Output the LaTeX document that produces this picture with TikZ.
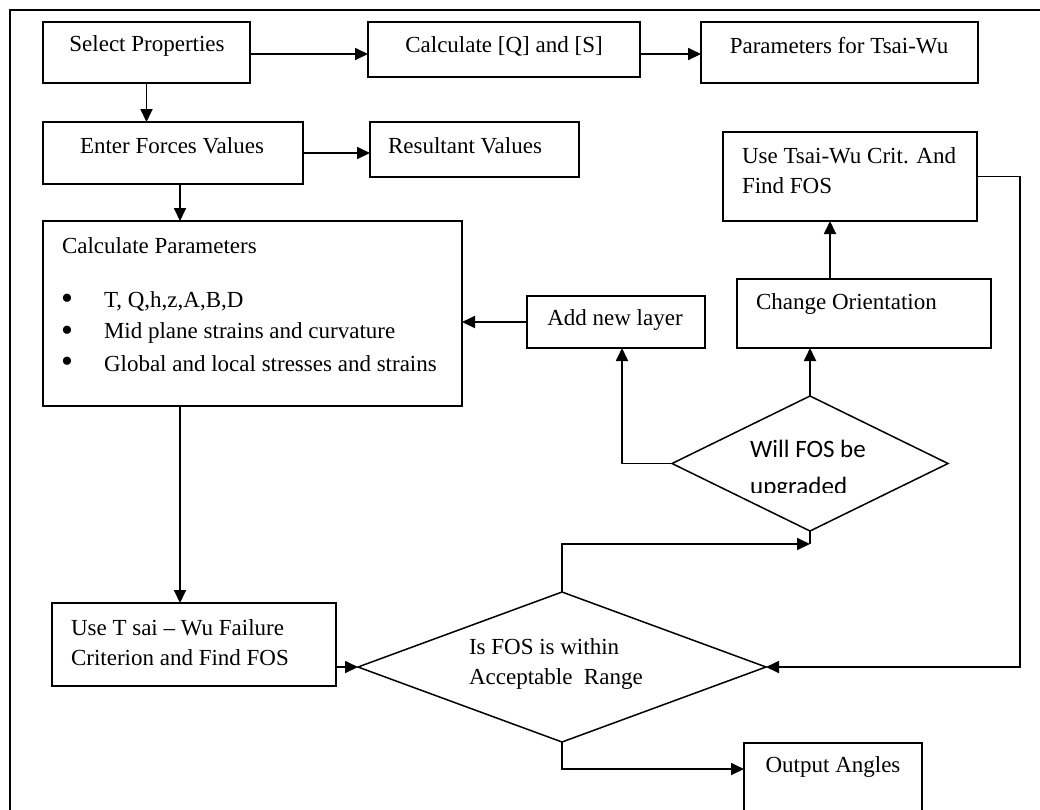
\documentclass[tikz,border=0pt]{standalone}
\usepackage{fontspec}
\setmainfont{Liberation Serif}
\newfontfamily\calib{Carlito}
\usetikzlibrary{shapes.geometric,arrows.meta}
\begin{document}
\begin{tikzpicture}[x=1pt,y=-1pt,
  box/.style={draw,line width=1.6pt,rectangle,inner sep=0pt,outer sep=0pt},
  dia/.style={draw,line width=1.5pt,diamond,inner sep=0pt,outer sep=0pt},
  txt/.style={inner sep=0pt,outer sep=0pt,font=\fontsize{23}{30}\selectfont,align=left},
  bul/.style={inner sep=0pt,outer sep=0pt,font=\fontsize{34}{34}\selectfont},
  arr/.style={line width=1.8pt,-{Triangle[length=13pt,width=12pt]}},
  ln/.style={line width=1.8pt}]
\clip (0,0) rectangle (1040,809);
% frame
\draw[ln] (10,815) -- (10,10) -- (1045,10);
% boxes
\node[box,minimum width=207pt,minimum height=61pt] (sel) at (146.5,52.5) {};
\node[box,minimum width=272pt,minimum height=55pt] (calq) at (504,49.5) {};
\node[box,minimum width=277pt,minimum height=61pt] (par) at (839.5,52.5) {};
\node[box,minimum width=260pt,minimum height=62pt] (ent) at (173,153) {};
\node[box,minimum width=209pt,minimum height=55pt] (res) at (474.5,149.5) {};
\node[box,minimum width=419pt,minimum height=185pt] (cp) at (252.5,313.5) {};
\node[box,minimum width=254pt,minimum height=89pt] (tw) at (850,176.5) {};
\node[box,minimum width=254pt,minimum height=69pt] (co) at (864,313.5) {};
\node[box,minimum width=178pt,minimum height=52pt] (anl) at (616,322) {};
\node[box,minimum width=284pt,minimum height=83pt] (uts) at (194,644.5) {};
\node[box,minimum width=178pt,minimum height=80pt] (out) at (833,783) {};
\node[dia,minimum width=408pt,minimum height=150pt] (isfos) at (562,667) {};
\node[dia,minimum width=276pt,minimum height=135pt] (will) at (810,463.5) {};
% texts
\node[txt] (tsel) at (147,46) {Select Properties};
\node[txt] (tcalq) at (504,46) {Calculate [Q] and [S]};
\node[txt] (tpar) at (839,46) {Parameters for Tsai-Wu};
\node[txt] (tent) at (172,146) {Enter Forces Values};
\node[txt,anchor=west] (tres) at (388,146) {Resultant Values};
\node[txt,anchor=west] (tcp) at (62,246) {Calculate Parameters};
\node[bul] (b1) at (67,302) {•};
\node[bul] (b2) at (67,334) {•};
\node[bul] (b3) at (67,365) {•};
\node[txt,anchor=west] (l1) at (104,301) {T, Q,h,z,A,B,D};
\node[txt,anchor=west] (l2) at (104,333) {Mid plane strains and curvature};
\node[txt,anchor=west] (l3) at (104,364) {Global and local stresses and strains};
\node[txt,anchor=west] (ttw) at (742,171) {Use Tsai-Wu Crit. And\\Find FOS};
\node[txt,anchor=west] (tco) at (756,304) {Change Orientation};
\node[txt] (tanl) at (615,320) {Add new layer};
\node[txt,anchor=west] (tuts) at (71,643) {Use T sai -- Wu Failure\\Criterion and Find FOS};
\node[txt,anchor=west] (tis) at (469,664) {Is FOS is within\\Acceptable\ \ Range};
\node[txt] (tout) at (833,767) {Output Angles};
\begin{scope}
\clip (740,425) rectangle (890,492);
\node[inner sep=0pt,anchor=west,align=left,font=\calib\fontsize{25}{37}\selectfont] (twill) at (750,469) {Will FOS be\\upgraded};
\end{scope}
% helper coordinates
\coordinate (x180) at (180,0);
\coordinate (x622) at (622,0);
\coordinate (x830) at (830,0);
\coordinate (xr) at (1020,0);
\coordinate (y54) at (0,54);
\coordinate (y769) at (0,769);
\coordinate (j1) at (810,544);
% connectors
\draw[arr] (sel.east |- y54) -- (calq.west |- y54);
\draw[arr] (calq.east |- y54) -- (par.west |- y54);
\draw[arr] (sel.south) -- (sel.south |- ent.north);
\draw[arr] (ent.east) -- (ent.east -| res.west);
\draw[arr] (ent.south -| x180) -- (cp.north -| x180);
\draw[arr] (cp.south -| x180) -- (uts.north -| x180);
\draw[arr] (uts.east |- isfos.west) -- (isfos.west);
\draw[arr] (isfos.north) |- (j1);
\draw[ln] (will.south) -- (j1);
\draw[arr] (will.west) -| (anl.south -| x622);
\draw[arr] (will.north) -- (co.south -| will.north);
\draw[arr] (co.north -| x830) -- (tw.south -| x830);
\draw[arr] (anl.west) -- (anl.west -| cp.east);
\draw[arr] (tw.east) -- (tw.east -| xr) -- (isfos.east -| xr) -- (isfos.east);
\draw[arr] (isfos.south) |- (out.west |- y769);
\end{tikzpicture}
\end{document}
